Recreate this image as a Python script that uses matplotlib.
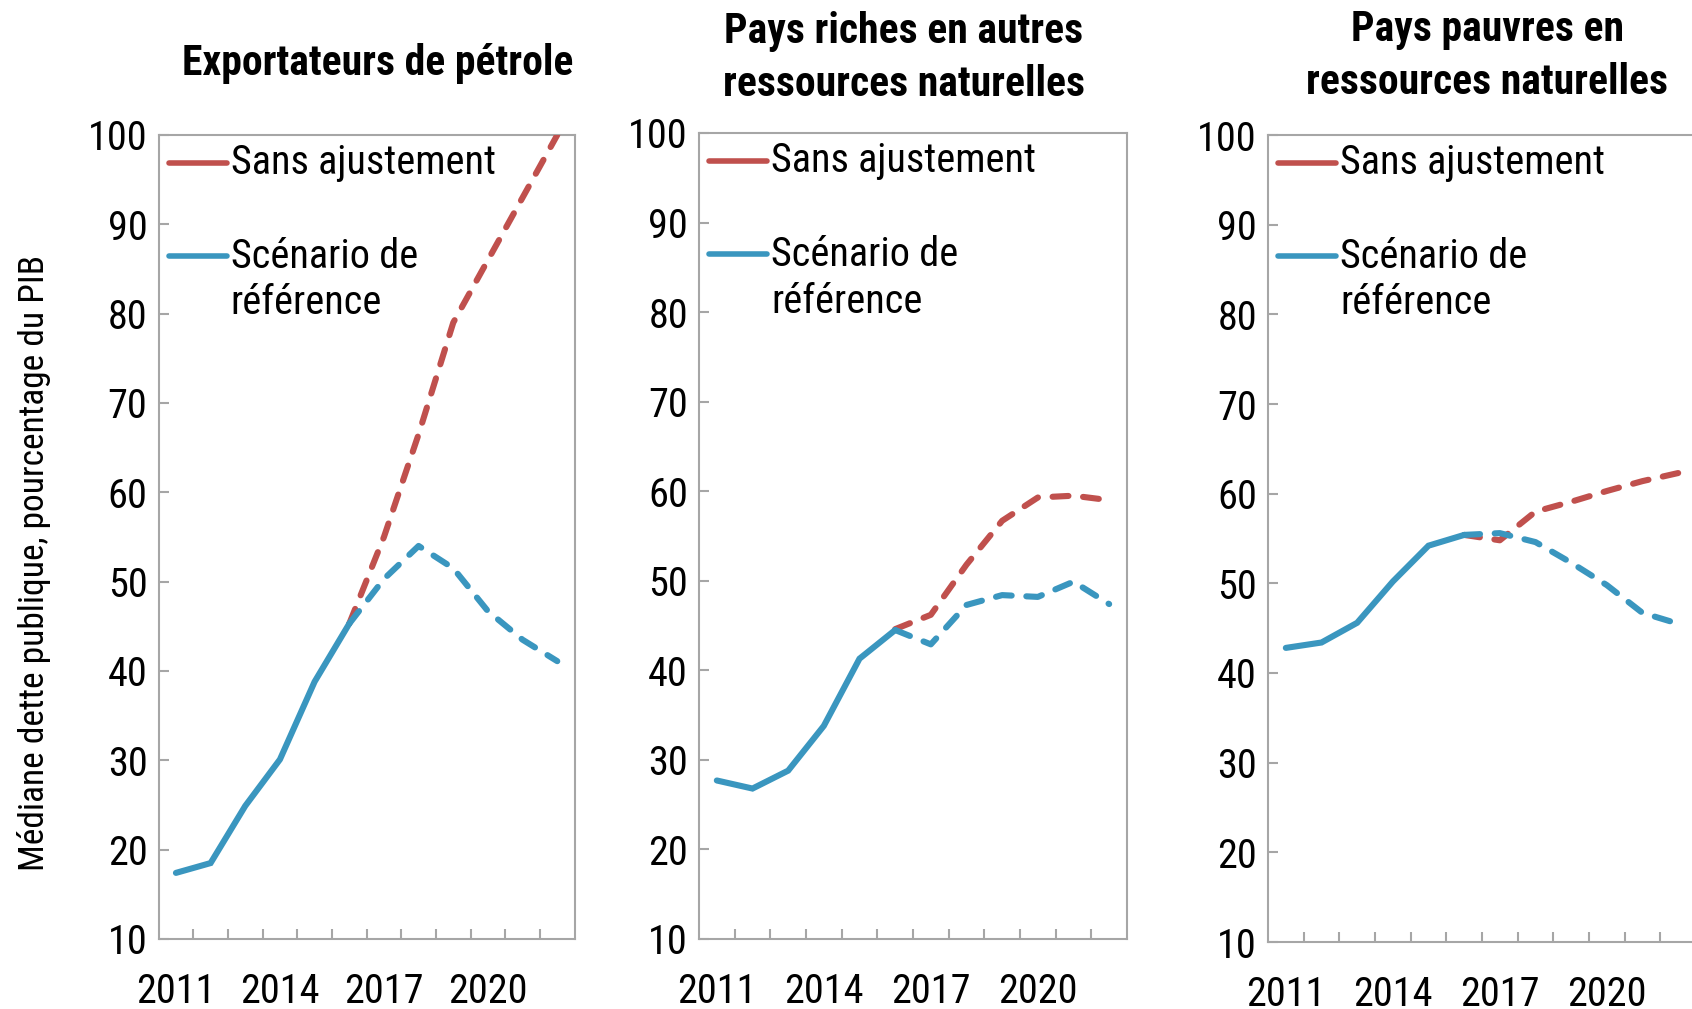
import matplotlib
matplotlib.use("Agg")
import matplotlib.pyplot as plt
from matplotlib import font_manager
from matplotlib.font_manager import FontProperties
from matplotlib.lines import Line2D

# ---------------- data ----------------
years = [2011, 2012, 2013, 2014, 2015, 2016, 2017, 2018, 2019, 2020, 2021, 2022]
tick_years = [2011, 2014, 2017, 2020]
titles = ["Exportateurs de pétrole",
          "Pays riches en autres\nressources naturelles",
          "Pays pauvres en\nressources naturelles"]
ylabel = "Médiane dette publique, pourcentage du PIB"
legend_labels = ["Sans ajustement", "Scénario de\nréférence"]
last_actual = 2016  # solid up to this year, dashed after

# Scénario de référence (blue)
ref_oil = [17.4, 18.5, 24.9, 30.1, 38.8, 45.3, 50.3, 54.0, 51.5, 46.7, 43.5, 41.1]
ref_rich = [27.7, 26.8, 28.8, 33.8, 41.3, 44.5, 42.9, 47.3, 48.4, 48.2, 49.9, 47.4]
ref_poor = [42.8, 43.4, 45.6, 50.2, 54.2, 55.4, 55.6, 54.6, 52.3, 49.8, 46.7, 45.5]
# Sans ajustement (red), from 2016 on
noadj_oil = [45.3, 55.0, 66.5, 79.0, 86.0, 93.0, 100.0]
noadj_rich = [44.6, 46.2, 51.8, 56.7, 59.3, 59.5, 59.0]
noadj_poor = [55.4, 54.8, 58.0, 59.1, 60.3, 61.4, 62.3]

ref_series = [ref_oil, ref_rich, ref_poor]
noadj_series = [noadj_oil, noadj_rich, noadj_poor]

# ---------------- font selection (prefer a condensed sans) ----------------
ttf = font_manager.fontManager.ttflist


def find_font(want_w):
    def wnum(f):
        w = f.weight
        if isinstance(w, str):
            w = {"normal": 400, "regular": 400, "bold": 700}.get(w, 400)
        return w

    prefs = [
        lambda f: f.name == "Liberation Sans Narrow",
        lambda f: f.name == "Roboto Condensed",
        lambda f: f.name == "Open Sans Condensed",
        lambda f: f.name.startswith("Open Sans") and "Condensed" in f.name,
        lambda f: f.name == "Noto Sans" and f.stretch == "condensed",
        lambda f: f.name == "Roboto" and f.stretch == "condensed",
        lambda f: f.name == "Open Sans" and f.stretch == "condensed",
        lambda f: f.name == "DejaVu Sans" and f.stretch == "condensed",
        lambda f: ("Narrow" in f.name or "Condensed" in f.name),
    ]
    for p in prefs:
        c = [f for f in ttf if p(f) and f.style == "normal"]
        if c:
            c.sort(key=lambda f: abs(wnum(f) - want_w))
            return c[0].fname
    return None


reg_file = find_font(400)
bold_file = find_font(640)
FS = 29


def fp(size=FS, bold=False):
    f = bold_file if bold else reg_file
    if f:
        return FontProperties(fname=f, size=size)
    return FontProperties(family=["Liberation Sans", "DejaVu Sans"], size=size * 0.92,
                          weight="bold" if bold else "normal")


RED = "#C0504D"
BLUE = "#3A96BF"
GREY = "#A6A6A6"

W, H = 1692, 1009
fig = plt.figure(figsize=(W / 100, H / 100), dpi=100)

# axes boxes in pixels: left, top, width, height
boxes = [(158.6, 135, 416, 804), (699, 133, 428, 806), (1268, 135, 428, 807)]
title_pos = [(378, 63), (904, 58), (1487, 56)]

lw = 4.4
dash = (2.6, 2.4)

for i, (l, t, w, h) in enumerate(boxes):
    ax = fig.add_axes([l / W, 1 - (t + h) / H, w / W, h / H])
    x = list(range(len(years)))
    k = years.index(last_actual)
    ref = ref_series[i]
    noadj = noadj_series[i]
    ax.plot(x[k:], noadj, color=RED, lw=lw, dashes=dash, dash_capstyle='round',
            zorder=3)
    ax.plot(x[k:], ref[k:], color=BLUE, lw=lw, dashes=dash, dash_capstyle='round',
            zorder=4)
    ax.plot(x[:k + 1], ref[:k + 1], color=BLUE, lw=lw, solid_capstyle='round',
            solid_joinstyle='miter', zorder=5)

    ax.set_xlim(-0.5, len(years) - 0.5)
    ax.set_ylim(10, 100)
    ax.set_yticks(range(10, 101, 10))
    ax.set_xticks([years.index(y) for y in tick_years])
    ax.set_xticklabels([str(y) for y in tick_years])
    ax.set_xticks([j + 0.5 for j in range(len(years) - 1)], minor=True)
    ax.tick_params(axis='x', which='major', length=0, pad=24)
    ax.tick_params(axis='x', which='minor', direction='in', length=7,
                   width=1.5, color=GREY)
    ax.tick_params(axis='y', direction='in', length=7, width=1.5, color=GREY,
                   pad=8)
    for lab in ax.get_xticklabels() + ax.get_yticklabels():
        lab.set_fontproperties(fp())
    for s in ax.spines.values():
        s.set_color(GREY)
        s.set_linewidth(1.5)

    # legend (manual, handle aligned with first text line)
    hx0 = 10 / w
    hx1 = 68 / w
    tx = 72 / w
    y1 = 1 - 28 / h
    y2 = 1 - 121 / h
    ax.add_line(Line2D([hx0, hx1], [y1, y1], transform=ax.transAxes,
                       color=RED, lw=4, solid_capstyle='round', clip_on=False))
    ax.add_line(Line2D([hx0, hx1], [y2, y2], transform=ax.transAxes,
                       color=BLUE, lw=4, solid_capstyle='round', clip_on=False))
    ax.text(tx, y1, legend_labels[0], transform=ax.transAxes, fontproperties=fp(),
            va='center', ha='left')
    lines = legend_labels[1].split("\n")
    ax.text(tx, y2, lines[0], transform=ax.transAxes, fontproperties=fp(),
            va='center', ha='left')
    ax.text(tx, y2 - 47 / h, lines[1], transform=ax.transAxes, fontproperties=fp(),
            va='center', ha='left')

    tx_, ty_ = title_pos[i]
    fig.text(tx_ / W, 1 - ty_ / H, titles[i], fontproperties=fp(size=30, bold=True),
             ha='center', va='center', linespacing=1.38)

fig.text(34 / W, 1 - 563 / H, ylabel, rotation=90, fontproperties=fp(size=25.5),
         ha='center', va='center')

fig.savefig("out.png", dpi=100)
